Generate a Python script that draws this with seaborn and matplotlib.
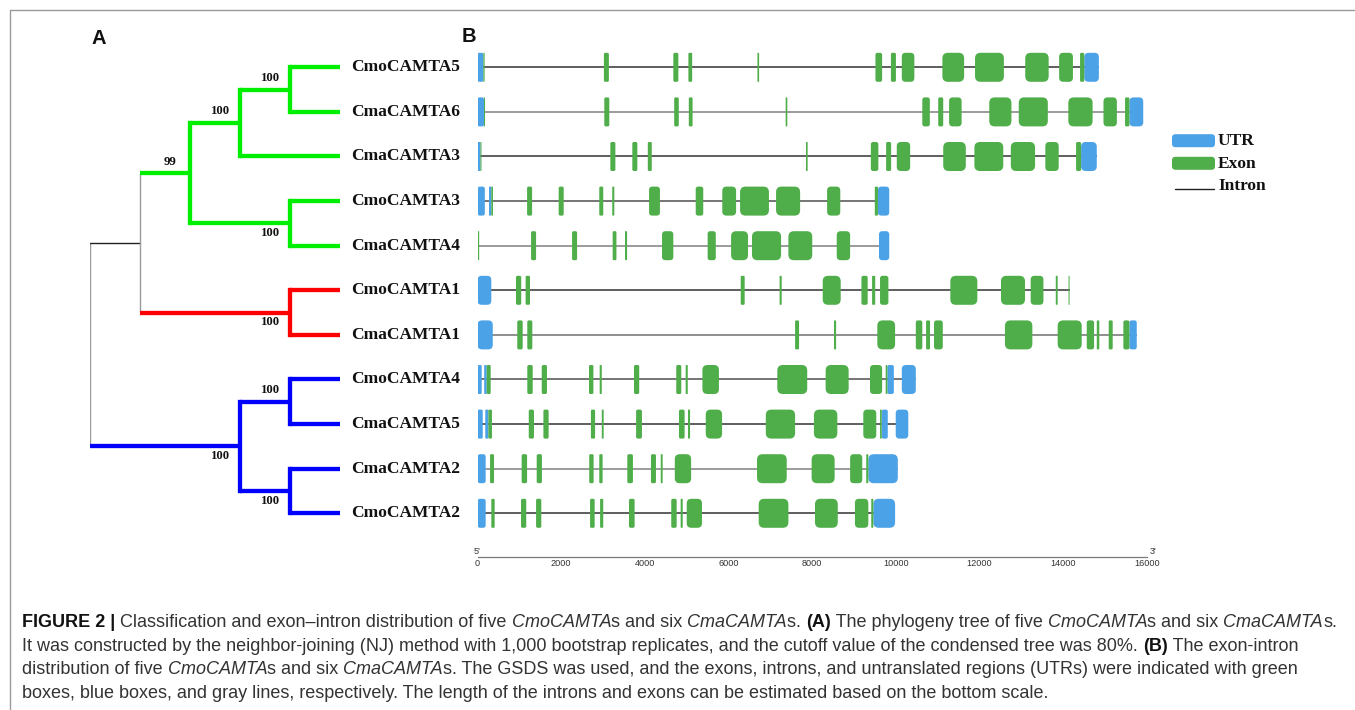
import matplotlib
matplotlib.use("Agg")
import matplotlib.pyplot as plt
from matplotlib.patches import FancyBboxPatch
from matplotlib.font_manager import FontProperties
import seaborn as sns
import pandas as pd

# ---------------- data ----------------
genes = ['CmoCAMTA5', 'CmaCAMTA6', 'CmaCAMTA3', 'CmoCAMTA3', 'CmaCAMTA4',
         'CmoCAMTA1', 'CmaCAMTA1', 'CmoCAMTA4', 'CmaCAMTA5', 'CmaCAMTA2', 'CmoCAMTA2']
clade = ['green'] * 5 + ['red'] * 2 + ['blue'] * 4
newick = ("(((((CmoCAMTA5,CmaCAMTA6)100,CmaCAMTA3)100,(CmoCAMTA3,CmaCAMTA4)100)99,"
          "(CmoCAMTA1,CmaCAMTA1)100),((CmoCAMTA4,CmaCAMTA5)100,(CmaCAMTA2,CmoCAMTA2)100)100);")

CmoCAMTA5_utr = [(0, 140), (14500, 14850)]
CmoCAMTA5_exon = [(140, 170), (3020, 3140), (4680, 4800), (5040, 5130), (6690, 6730), (9510, 9670),
                  (9880, 10000), (10140, 10440), (11110, 11630), (11890, 12580), (13090, 13650),
                  (13900, 14230), (14400, 14500)]
CmaCAMTA6_utr = [(0, 155), (15580, 15910)]
CmaCAMTA6_exon = [(155, 180), (3030, 3150), (4700, 4810), (5050, 5140), (7365, 7405), (10630, 10810),
                  (11010, 11130), (11270, 11570), (12230, 12760), (12935, 13630), (14120, 14700),
                  (14960, 15280), (15475, 15580)]
CmaCAMTA3_utr = [(0, 70), (14425, 14800)]
CmaCAMTA3_exon = [(70, 95), (3175, 3295), (3700, 3820), (4070, 4165), (7850, 7890), (9400, 9580),
                  (9765, 9885), (10020, 10340), (11130, 11670), (11875, 12565), (12745, 13325),
                  (13570, 13890), (14305, 14425)]
CmoCAMTA3_utr = [(0, 175), (275, 330), (9570, 9840)]
CmoCAMTA3_exon = [(330, 370), (1185, 1305), (1940, 2060), (2910, 3005), (3220, 3270), (4100, 4360),
                  (5215, 5395), (5850, 6180), (6275, 6965), (7135, 7710), (8355, 8670), (9495, 9570)]
CmaCAMTA4_utr = [(9595, 9840)]
CmaCAMTA4_exon = [(0, 40), (1280, 1400), (2260, 2380), (3230, 3320), (3525, 3575), (4410, 4680),
                  (5500, 5695), (6060, 6465), (6560, 7255), (7430, 8000), (8585, 8905)]
CmoCAMTA1_utr = [(0, 330)]
CmoCAMTA1_exon = [(920, 1045), (1150, 1255), (6290, 6385), (7220, 7270), (8250, 8680), (9175, 9325),
                  (9430, 9505), (9620, 9820), (11300, 11945), (12510, 13085), (13220, 13525),
                  (13820, 13865), (14125, 14150)]
CmaCAMTA1_utr = [(0, 365), (15580, 15755)]
CmaCAMTA1_exon = [(950, 1080), (1190, 1310), (7590, 7685), (8520, 8570), (9555, 9980), (10475, 10630),
                  (10720, 10815), (10910, 11120), (12605, 13260), (13865, 14440), (14560, 14735),
                  (14800, 14860), (15085, 15180), (15435, 15580)]
CmoCAMTA4_utr = [(0, 100), (160, 220), (9795, 9950), (10140, 10475)]
CmoCAMTA4_exon = [(220, 315), (1190, 1320), (1535, 1660), (2665, 2770), (2920, 2970), (3740, 3865),
                  (4750, 4870), (4975, 5025), (5375, 5770), (7165, 7880), (8320, 8870), (9380, 9670),
                  (9755, 9795)]
CmaCAMTA5_utr = [(0, 125), (185, 260), (9660, 9805), (9995, 10295)]
CmaCAMTA5_exon = [(260, 345), (1225, 1350), (1575, 1700), (2710, 2810), (2970, 3015), (3790, 3930),
                  (4815, 4950), (5030, 5080), (5455, 5845), (6890, 7590), (8040, 8600), (9220, 9530),
                  (9620, 9660)]
CmaCAMTA2_utr = [(0, 195), (9340, 10045)]
CmaCAMTA2_exon = [(300, 395), (1055, 1185), (1415, 1540), (2670, 2775), (2910, 2990), (3580, 3715),
                  (4145, 4265), (4380, 4425), (4715, 5105), (6680, 7390), (7985, 8535), (8905, 9195),
                  (9290, 9340)]
CmoCAMTA2_utr = [(0, 195), (9460, 9980)]
CmoCAMTA2_exon = [(330, 410), (1040, 1165), (1400, 1525), (2690, 2800), (2930, 3005), (3620, 3755),
                  (4630, 4760), (4855, 4905), (5000, 5365), (6720, 7430), (8065, 8610), (9020, 9340),
                  (9410, 9460)]

scale_ticks = [0, 2000, 4000, 6000, 8000, 10000, 12000, 14000, 16000]
legend_labels = ['UTR', 'Exon', 'Intron']

# ---------------- build table ----------------
feature_lists = {
    'CmoCAMTA5': (CmoCAMTA5_utr, CmoCAMTA5_exon), 'CmaCAMTA6': (CmaCAMTA6_utr, CmaCAMTA6_exon),
    'CmaCAMTA3': (CmaCAMTA3_utr, CmaCAMTA3_exon), 'CmoCAMTA3': (CmoCAMTA3_utr, CmoCAMTA3_exon),
    'CmaCAMTA4': (CmaCAMTA4_utr, CmaCAMTA4_exon), 'CmoCAMTA1': (CmoCAMTA1_utr, CmoCAMTA1_exon),
    'CmaCAMTA1': (CmaCAMTA1_utr, CmaCAMTA1_exon), 'CmoCAMTA4': (CmoCAMTA4_utr, CmoCAMTA4_exon),
    'CmaCAMTA5': (CmaCAMTA5_utr, CmaCAMTA5_exon), 'CmaCAMTA2': (CmaCAMTA2_utr, CmaCAMTA2_exon),
    'CmoCAMTA2': (CmoCAMTA2_utr, CmoCAMTA2_exon)}
rows = []
for g in genes:
    utr, ex = feature_lists[g]
    for s, e in utr:
        rows.append((g, 'UTR', s, e))
    for s, e in ex:
        rows.append((g, 'Exon', s, e))
feat = pd.DataFrame(rows, columns=['gene', 'type', 'start', 'end'])

# ---------------- style ----------------
sns.set_theme(style='white')
plt.rcParams['font.family'] = ['Liberation Sans', 'DejaVu Sans']
W, H = 1355, 710
fig = plt.figure(figsize=(W / 100, H / 100), dpi=100)
fig.patch.set_facecolor('white')

def rect(x0, ytop, w, h):
    return [x0 / W, 1 - (ytop + h) / H, w / W, h / H]

COL = {'green': '#00EE00', 'red': '#FF0000', 'blue': '#0000FF'}
FEAT_COL = {'UTR': '#4BA2E6', 'Exon': '#4FAE4A'}
SERIF_B = dict(family=['Liberation Serif', 'DejaVu Serif'], weight='bold')

# decoration axes (pixel coordinates)
deco = fig.add_axes([0, 0, 1, 1], zorder=0)
deco.set_xlim(0, W)
deco.set_ylim(H, 0)
deco.axis('off')
deco.plot([10, 10, W], [H, 10, 10], color='#9a9a9a', lw=1.0)

# ---------------- tree ----------------
def parse(s):
    pos = 0
    def node():
        nonlocal pos
        if s[pos] == '(':
            pos += 1
            kids = [node()]
            while s[pos] == ',':
                pos += 1
                kids.append(node())
            pos += 1
            lab = ''
            while pos < len(s) and s[pos] not in ',);':
                lab += s[pos]
                pos += 1
            return {'children': kids, 'support': lab}
        lab = ''
        while s[pos] not in ',);':
            lab += s[pos]
            pos += 1
        return {'name': lab, 'children': []}
    return node()

root = parse(newick)

def layout(n):
    if not n['children']:
        i = genes.index(n['name'])
        n['y'], n['h'], n['cols'] = i, 0, {clade[i]}
    else:
        for c in n['children']:
            layout(c)
        n['y'] = sum(c['y'] for c in n['children']) / len(n['children'])
        n['h'] = max(c['h'] for c in n['children']) + 1
        n['cols'] = set().union(*[c['cols'] for c in n['children']])
layout(root)
TIP = root['h']

def xof(n):
    return TIP - n['h']

tax = fig.add_axes(rect(90, 45, 250, 490.6), zorder=2)
tax.set_facecolor('none')
tax.set_xlim(0, TIP)
tax.set_ylim(len(genes) - 0.5, -0.5)
tax.axis('off')

def draw(n):
    if not n['children']:
        return
    xn = xof(n)
    ys = [c['y'] for c in n['children']]
    if len(n['cols']) == 1:
        tax.plot([xn, xn], [min(ys), max(ys)], color=COL[next(iter(n['cols']))], lw=3.1,
                 solid_capstyle='projecting')
    else:
        tax.plot([xn, xn], [min(ys), max(ys)], color='#9a9a9a', lw=1.0)
    for k, c in enumerate(n['children']):
        xc = xof(c)
        if len(c['cols']) == 1:
            tax.plot([xn, xc], [c['y'], c['y']], color=COL[next(iter(c['cols']))], lw=3.1,
                     solid_capstyle='butt')
        else:
            tax.plot([xn, xc], [c['y'], c['y']], color='#222222', lw=1.0)
        if c['children'] and c.get('support'):
            dy = -0.26 if k == 0 else 0.22
            tax.text(xc - 0.4, c['y'] + dy, c['support'], ha='center', va='center',
                     fontsize=9.2, color='#111111', **SERIF_B)
        draw(c)
draw(root)

for i, g in enumerate(genes):
    tax.text(5.22, i, g, ha='left', va='center', fontsize=12.5, color='#111111',
             clip_on=False, **SERIF_B)

# ---------------- gene structures ----------------
gax = fig.add_axes(rect(477.5, 45, 669.5, 490.6), zorder=2)
gax.set_facecolor('none')
gax.set_xlim(0, 16000)
gax.set_ylim(len(genes) - 0.5, -0.5)
gax.axis('off')
px_bp = 669.5 / 16000
px_row = 490.6 / len(genes)
aspect = px_bp / px_row
box_h = 29 / px_row
intron_shade = ['#333333', '#808080', '#333333', '#505050', '#808080', '#333333',
                '#707070', '#505050', '#333333', '#808080', '#333333']
for i, g in enumerate(genes):
    sub = feat[feat.gene == g]
    gax.hlines(i, 0, sub.end.max(), color=intron_shade[i], lw=1.1, zorder=1)
    for _, r in sub.iterrows():
        w = r.end - r.start
        rr = min(5.5 / px_bp, 0.3 * w)
        p = FancyBboxPatch((r.start, i - box_h / 2), w, box_h,
                           boxstyle=f"round,pad=0,rounding_size={rr}",
                           mutation_aspect=aspect, facecolor=FEAT_COL[r.type],
                           edgecolor='none', zorder=2)
        gax.add_patch(p)

# scale bar
sax = fig.add_axes(rect(477.5, 519, 669.5, 38), zorder=2)
sax.set_facecolor('none')
sax.set_xlim(0, 16000)
sax.set_yticks([])
sns.despine(ax=sax, left=True, top=True, right=True)
sax.spines['bottom'].set_color('#7a7a7a')
sax.spines['bottom'].set_linewidth(0.9)
sax.set_xticks(scale_ticks)
sax.set_xticklabels([str(t) for t in scale_ticks])
sax.tick_params(axis='x', length=0, pad=1.5, labelsize=6.6, labelcolor='#333333')
for lab in sax.get_xticklabels():
    lab.set_family(['Liberation Sans Narrow', 'Liberation Sans'])
sax.text(0, 0.02, "5'", transform=sax.get_xaxis_transform(), ha='center', va='bottom',
         fontsize=6.6, color='#333333', family=['Liberation Sans Narrow', 'Liberation Sans'])
sax.text(16150, 0.02, "3'", transform=sax.get_xaxis_transform(), ha='center', va='bottom',
         fontsize=6.6, color='#333333', family=['Liberation Sans Narrow', 'Liberation Sans'])

# ---------------- legend ----------------
for lab, yc in zip(legend_labels, [140.7, 163.3, 186.5]):
    if lab in FEAT_COL:
        deco.add_patch(FancyBboxPatch((1172, yc - 6.5), 43, 13,
                                      boxstyle="round,pad=0,rounding_size=3.5",
                                      facecolor=FEAT_COL[lab], edgecolor='none'))
        deco.text(1218, yc + 0.5, lab, ha='left', va='center', fontsize=12.5,
                  color='#111111', **SERIF_B)
    else:
        deco.plot([1175, 1214], [yc + 2.5, yc + 2.5], color='#222222', lw=1.0)
        deco.text(1218, yc - 1, lab, ha='left', va='center', fontsize=12.5,
                  color='#111111', **SERIF_B)

# panel letters
deco.text(99, 39, 'A', ha='center', va='center', fontsize=14.5, weight='bold', color='#111111')
deco.text(469, 37, 'B', ha='center', va='center', fontsize=14.5, weight='bold', color='#111111')

# ---------------- caption ----------------
N, B, I = ('normal', 'normal'), ('bold', 'normal'), ('normal', 'italic')
cap_lines = [
    [("FIGURE 2 |", B), (" Classification and exon\u2013intron distribution of five ", N),
     ("CmoCAMTA", I), ("s and six ", N), ("CmaCAMTA", I), ("s. ", N), ("(A)", B),
     (" The phylogeny tree of five ", N), ("CmoCAMTA", I), ("s and six ", N),
     ("CmaCAMTA", I), ("s.", N)],
    [("It was constructed by the neighbor-joining (NJ) method with 1,000 bootstrap replicates, "
      "and the cutoff value of the condensed tree was 80%. ", N), ("(B)", B),
     (" The exon-intron", N)],
    [("distribution of five ", N), ("CmoCAMTA", I), ("s and six ", N), ("CmaCAMTA", I),
     ("s. The GSDS was used, and the exons, introns, and untranslated regions (UTRs) were "
      "indicated with green", N)],
    [("boxes, blue boxes, and gray lines, respectively. The length of the introns and exons "
      "can be estimated based on the bottom scale.", N)],
]
renderer = fig.canvas.get_renderer()

def run_w(s, size, st):
    fp = FontProperties(family=['Liberation Sans', 'DejaVu Sans'], weight=st[0],
                        style=st[1], size=size)
    a = renderer.get_text_width_height_descent('x' + s + 'x', fp, ismath=False)[0]
    b = renderer.get_text_width_height_descent('xx', fp, ismath=False)[0]
    return a - b

w12 = sum(run_w(s, 12, st) for s, st in cap_lines[0])
cap_size = 12 * 1313 / w12
for li, line in enumerate(cap_lines):
    x = 22
    yb = 627 + li * 23.7
    for s, st in line:
        deco.text(x, yb, s, ha='left', va='baseline', fontsize=cap_size, weight=st[0],
                  style=st[1], color='#333333' if st != B else '#111111')
        x += run_w(s, cap_size, st)

fig.savefig('out.png', dpi=100)
